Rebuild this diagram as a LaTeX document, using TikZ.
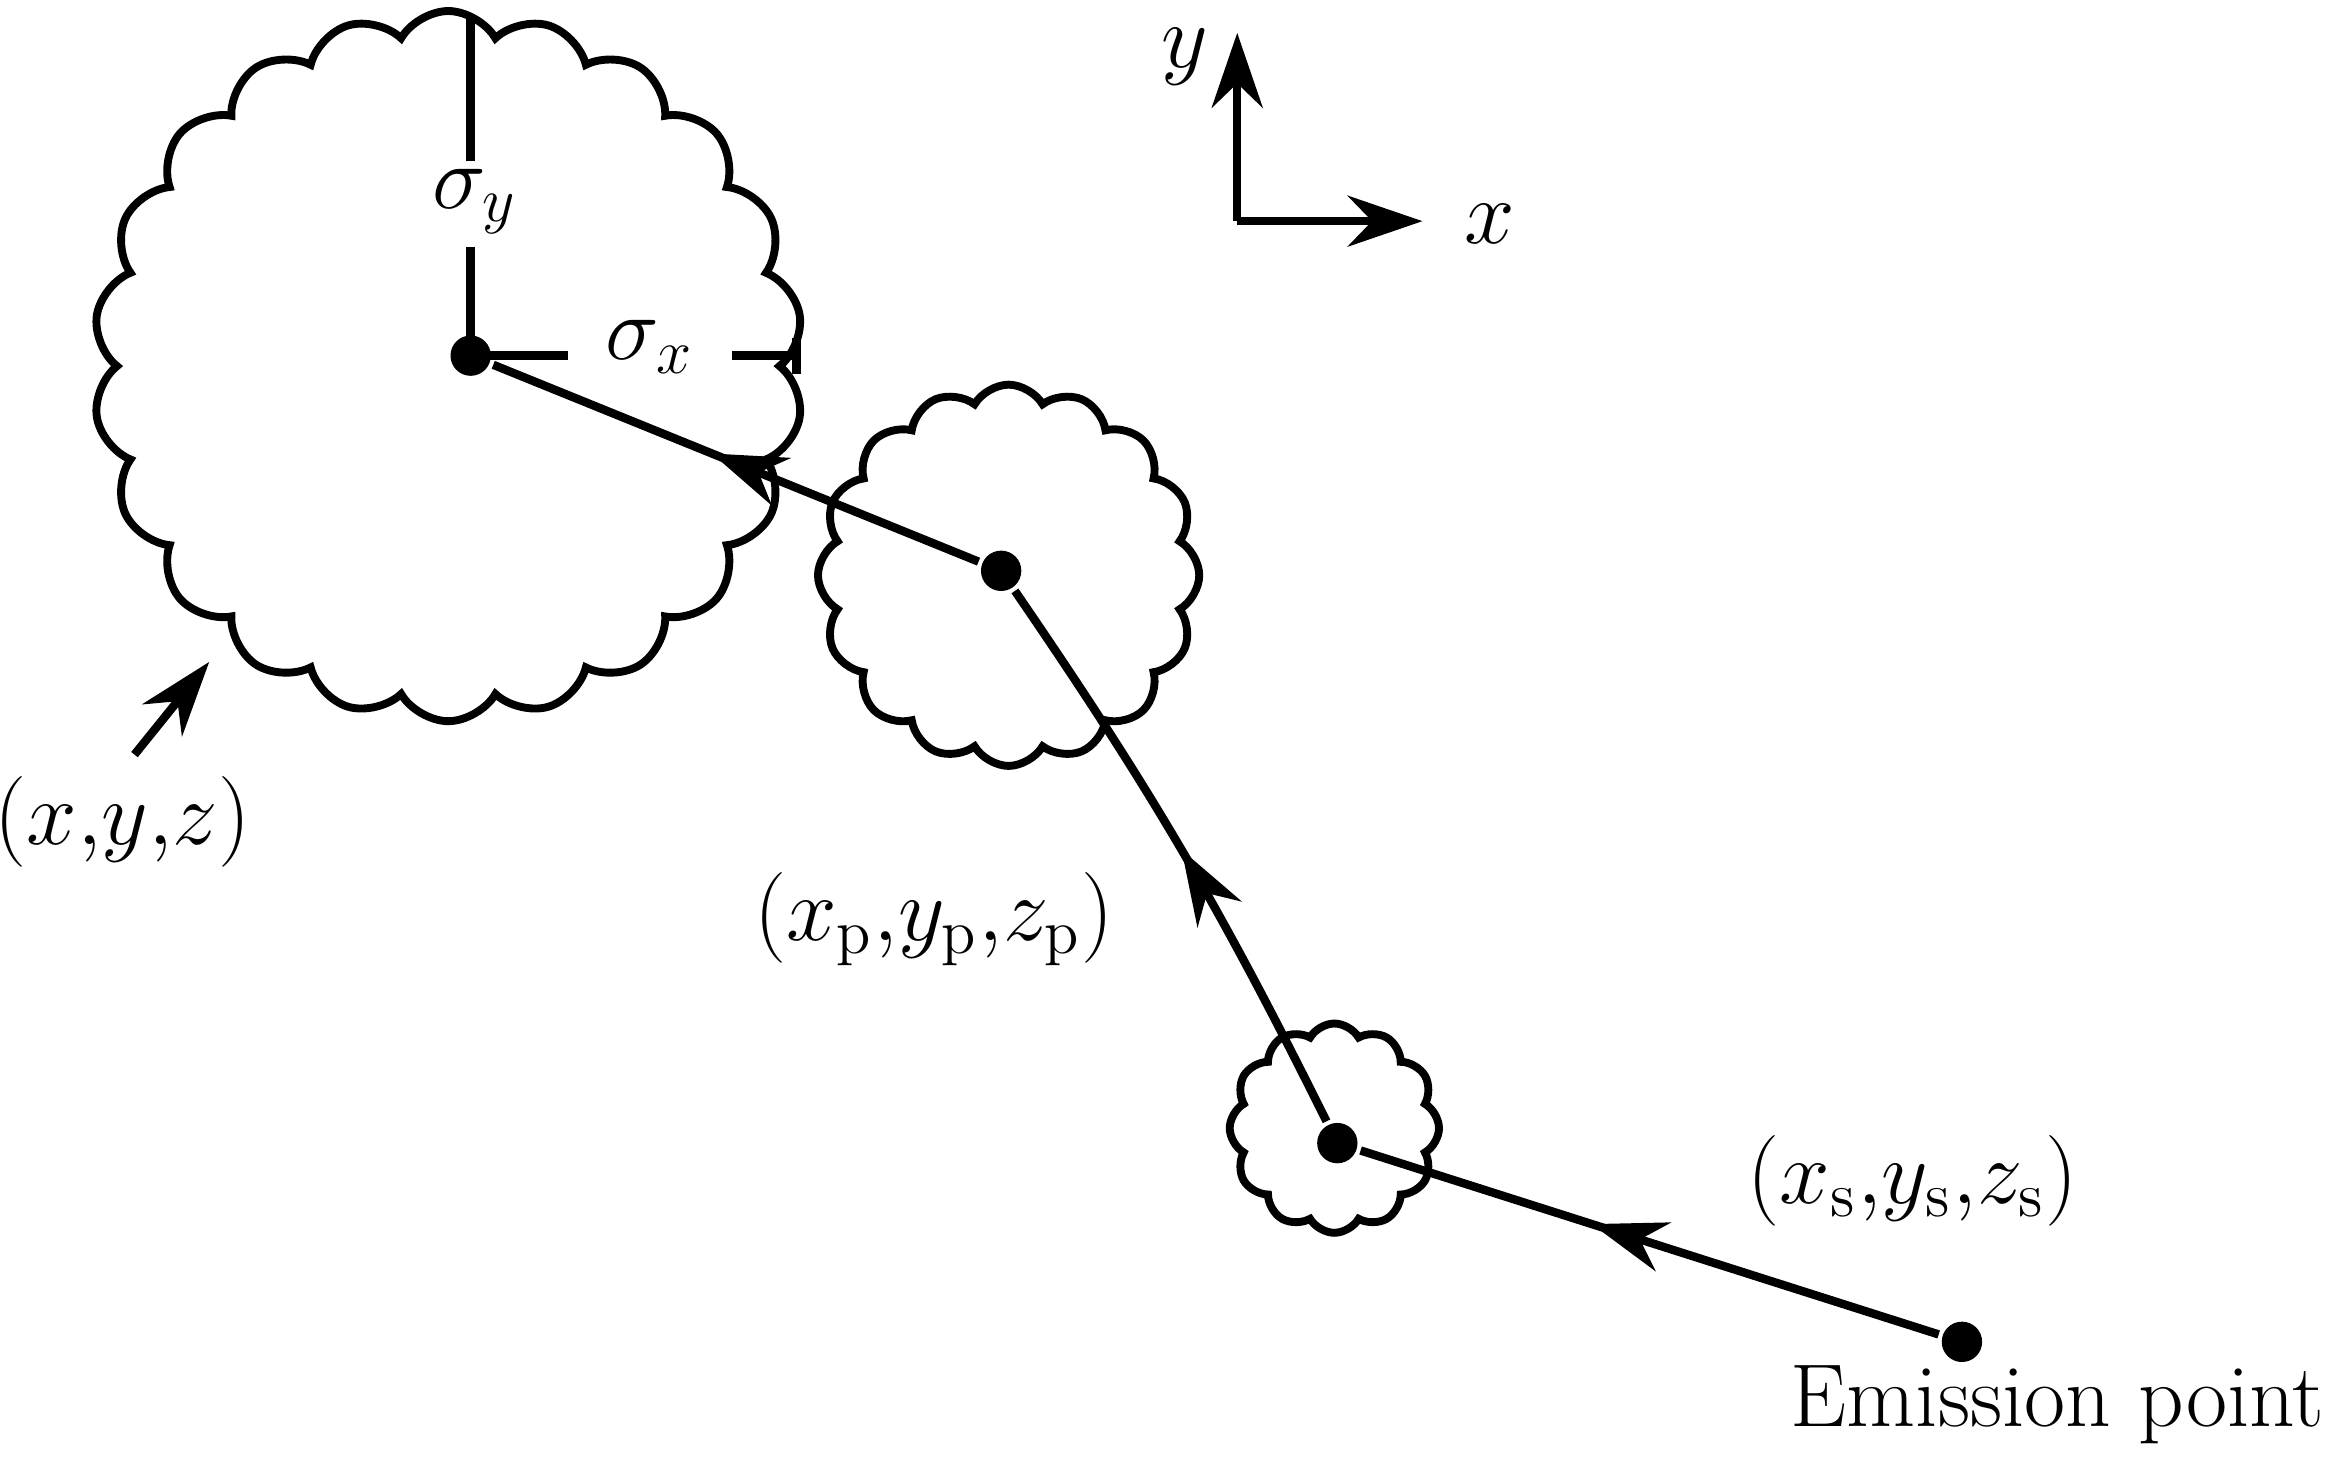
\documentclass[tikz,border=0pt]{standalone}
\usetikzlibrary{arrows.meta,shapes.symbols,decorations.markings}
\begin{document}
\begin{tikzpicture}[x=0.01cm,y=-0.01cm,line width=1.6pt,
  every node/.style={font=\fontsize{17}{20}\selectfont},
  dot/.style={circle,fill,inner sep=0pt,minimum size=0.27cm},
  cl/.style={cloud,draw,cloud puffs=#1,cloud puff arc=120,aspect=1,inner sep=0pt,line width=1.5pt},
  tip/.style={-{Stealth[length=0.5cm,width=0.34cm]}},
  mid/.style={postaction={decorate},decoration={markings,mark=at position #1 with {\arrow{Stealth[length=0.5cm,width=0.34cm]}}}}]
\useasboundingbox (0,0) rectangle (1560,981);
\node[cl=22,minimum size=4.75cm] (c1) at (300,245) {};
\node[cl=16,minimum size=2.55cm] (c2) at (675,385) {};
\node[cl=12,minimum size=1.4cm] (c3) at (893,755) {};
\node[dot] (d1) at (315,238) {};
\node[dot] (d2) at (670,382) {};
\node[dot] (d3) at (895,765) {};
\node[dot] (d4) at (1313,898) {};
\draw[mid=0.6] (d4) -- (d3);
\draw[mid=0.5] (d3) to[bend right=4] (d2);
\draw[mid=0.55] (d2) -- (d1);
\node (sy) at (318,135) {$\sigma_y$};
\coordinate (ty) at (315,12);
\draw (d1.center) -- (315,165) (315,108) -- (ty);
\node (sx) at (435,232) {$\sigma_x$};
\coordinate (tx) at (533,238);
\draw (d1.center) -- (380,238) (490,238) -- (tx);
\draw (533,226) -- (533,250);
\coordinate (o) at (828,148);
\coordinate (ay) at (828,22);
\coordinate (ax) at (952,148);
\draw[tip] (o) -- (ay);
\draw[tip] (o) -- (ax);
\node at (793,38) {$y$};
\node at (997,150) {$x$};
\coordinate (p1) at (90,505);
\coordinate (p2) at (140,443);
\draw[tip] (p1) -- (p2);
\node at (82,550) {$(x{,}y{,}z)$};
\node at (625,615) {$(x_{\mathrm{p}}{,}y_{\mathrm{p}}{,}z_{\mathrm{p}})$};
\node at (1280,790) {$(x_{\mathrm{s}}{,}y_{\mathrm{s}}{,}z_{\mathrm{s}})$};
\node at (1377,940) {Emission point};
\end{tikzpicture}
\end{document}
